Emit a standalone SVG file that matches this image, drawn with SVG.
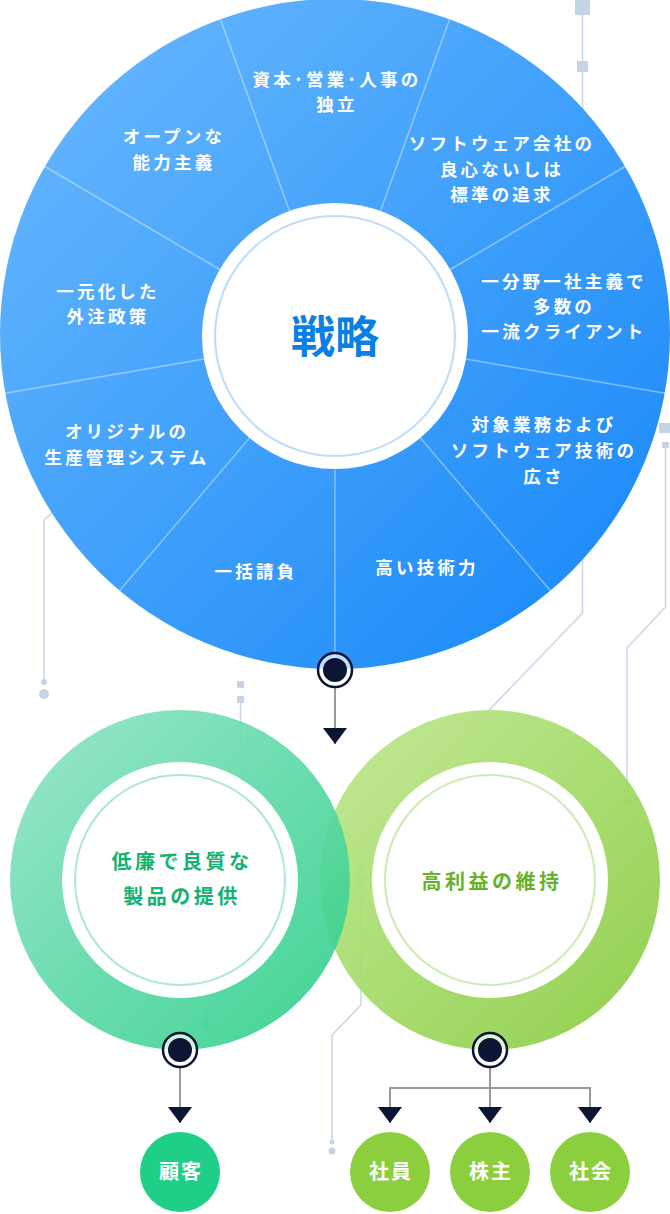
<svg xmlns="http://www.w3.org/2000/svg" width="670" height="1214" viewBox="0 0 670 1214">
<defs>
<linearGradient id="gBlue" x1="0" y1="0" x2="1" y2="1">
<stop offset="0" stop-color="#6cbafd"/>
<stop offset="1" stop-color="#1486f8"/>
</linearGradient>
<linearGradient id="gMint" x1="0" y1="0" x2="1" y2="1">
<stop offset="0" stop-color="#93e4c7"/>
<stop offset="1" stop-color="#2dcf89"/>
</linearGradient>
<linearGradient id="gLime" x1="0" y1="0" x2="1" y2="1">
<stop offset="0" stop-color="#bfe890"/>
<stop offset="1" stop-color="#88cc40"/>
</linearGradient>
<marker id="arr" viewBox="0 0 16 24" refX="16" refY="12" markerWidth="16" markerHeight="24" markerUnits="userSpaceOnUse" orient="auto-start-reverse">
<path d="M0,0 L16,12 L0,24 Z" fill="#0c1533"/>
</marker>
<style>
text{font-family:"Noto Sans CJK JP","Noto Sans",sans-serif;font-weight:bold;text-anchor:middle}
.seg{fill:#fff;font-size:17.5px;letter-spacing:3.2px}
.div{stroke:#fff;stroke-opacity:0.4;stroke-width:1.5}
.deco{stroke:#c8d6e6;stroke-width:1.5;fill:none}
.sq{fill:#c5d4e4}
.con{stroke:#9a9a9a;stroke-width:2;fill:none}
.dotO{fill:#fff;fill-opacity:0.7;stroke:#0c1533;stroke-width:2.5}
.dotI{fill:#0c1533}
.leaf{fill:#fff;font-size:20px;letter-spacing:2px}
.gt{font-size:20px;letter-spacing:3.5px}
</style>
</defs>

<g id="decorations">
<rect class="sq" x="575" y="0" width="15" height="15"/>
<rect class="sq" x="577" y="61" width="11" height="11"/>
<polyline class="deco" points="582.5,15 582.5,613 470,730"/>
<rect class="sq" x="659" y="423" width="12" height="10"/>
<rect class="sq" x="662" y="442" width="7" height="6"/>
<polyline class="deco" points="665.5,448 665.5,607 627,648 627,790"/>
<circle class="sq" cx="627" cy="790" r="3"/>
<circle class="sq" cx="627" cy="800" r="4"/>
<polyline class="deco" points="52,513 44,520 44,680"/>
<circle class="sq" cx="44" cy="682" r="3"/>
<circle class="sq" cx="44" cy="694" r="5"/>
<rect class="sq" x="237" y="681" width="7" height="7"/>
<rect class="sq" x="237" y="696" width="7" height="7"/>
<polyline class="deco" points="240.5,703 240.5,975 206,1008"/>
<circle class="sq" cx="206" cy="1012" r="3"/>
<circle class="sq" cx="206" cy="1023" r="4"/>
<circle class="sq" cx="361" cy="868" r="3"/>
<circle class="sq" cx="361" cy="880" r="4"/>
<polyline class="deco" points="361,880 361,1005 332,1035 332,1140"/>
<circle class="sq" cx="332" cy="1142" r="2.5"/>
<circle class="sq" cx="332" cy="1151" r="3.5"/>
</g>

<g id="strategy">
<circle cx="335" cy="334" r="335" fill="url(#gBlue)"/>
<g>
<line class="div" x1="380.5" y1="211" x2="449.6" y2="19.2"/>
<line class="div" x1="450.2" y1="269.5" x2="625.1" y2="166.5"/>
<line class="div" x1="466" y1="359.1" x2="664.9" y2="393.2"/>
<line class="div" x1="420.5" y1="438" x2="550.3" y2="590.6"/>
<line class="div" x1="335" y1="470" x2="335" y2="670"/>
<line class="div" x1="249.5" y1="438" x2="119.7" y2="590.6"/>
<line class="div" x1="204" y1="359.1" x2="5.1" y2="393.2"/>
<line class="div" x1="219.8" y1="269.5" x2="44.9" y2="166.5"/>
<line class="div" x1="289.5" y1="211" x2="220.4" y2="19.2"/>
</g>
<circle cx="335" cy="336" r="133" fill="#fff"/>
<circle cx="335" cy="336" r="120" fill="none" stroke="#bcdcf7" stroke-width="2"/>
<text x="335" y="353" font-size="44px" fill="#0a7fe6">戦略</text>
</g>

<g id="seg-1"><text class="seg" x="337" y="86">資本･営業･人事の</text><text class="seg" x="337" y="111">独立</text></g>
<g id="seg-2"><text class="seg" x="502" y="150">ソフトウェア会社の</text><text class="seg" x="502" y="176">良心ないしは</text><text class="seg" x="502" y="201">標準の追求</text></g>
<g id="seg-3"><text class="seg" x="564" y="288">一分野一社主義で</text><text class="seg" x="564" y="313">多数の</text><text class="seg" x="564" y="338">一流クライアント</text></g>
<g id="seg-4"><text class="seg" x="544" y="431">対象業務および</text><text class="seg" x="544" y="457">ソフトウェア技術の</text><text class="seg" x="544" y="483">広さ</text></g>
<g id="seg-5"><text class="seg" x="427" y="574">高い技術力</text></g>
<g id="seg-6"><text class="seg" x="256" y="578">一括請負</text></g>
<g id="seg-7"><text class="seg" x="127" y="438">オリジナルの</text><text class="seg" x="127" y="464">生産管理システム</text></g>
<g id="seg-8"><text class="seg" x="108" y="298">一元化した</text><text class="seg" x="108" y="323">外注政策</text></g>
<g id="seg-9"><text class="seg" x="174" y="143">オープンな</text><text class="seg" x="174" y="169">能力主義</text></g>

<g id="profit">
<circle cx="490" cy="880" r="170" fill="url(#gLime)" fill-opacity="0.93"/>
<circle cx="490" cy="880" r="118" fill="#fff"/>
<circle cx="490" cy="880" r="105" fill="none" stroke="#cdeab0" stroke-width="2"/>
<text class="gt" x="492" y="889" fill="#66b12a">高利益の維持</text>
</g>

<g id="quality">
<circle cx="180" cy="880" r="170" fill="url(#gMint)" fill-opacity="0.92"/>
<circle cx="180" cy="880" r="118" fill="#fff"/>
<circle cx="180" cy="880" r="105" fill="none" stroke="#ace8cf" stroke-width="2"/>
<text class="gt" x="182" y="869" fill="#14b36f">低廉で良質な</text>
<text class="gt" x="182" y="904" fill="#14b36f">製品の提供</text>
</g>

<g id="connectors">
<line class="con" x1="335" y1="688" x2="335" y2="744" marker-end="url(#arr)"/>
<line class="con" x1="180" y1="1068" x2="180" y2="1123" marker-end="url(#arr)"/>
<line class="con" x1="490" y1="1068" x2="490" y2="1088"/>
<polyline class="con" points="390,1123 390,1088 590,1088 590,1123" marker-end="url(#arr)" marker-start="url(#arr)"/>
<line class="con" x1="490" y1="1088" x2="490" y2="1123" marker-end="url(#arr)"/>
<circle class="dotO" cx="335" cy="670" r="17"/><circle class="dotI" cx="335" cy="670" r="12"/>
<circle class="dotO" cx="180" cy="1050" r="17"/><circle class="dotI" cx="180" cy="1050" r="12"/>
<circle class="dotO" cx="490" cy="1050" r="17"/><circle class="dotI" cx="490" cy="1050" r="12"/>
</g>

<g id="customer"><circle cx="180" cy="1172" r="40" fill="#1fcf88"/><text class="leaf" x="181" y="1179">顧客</text></g>
<g id="employee"><circle cx="390" cy="1172" r="40" fill="#8ccf3e"/><text class="leaf" x="391" y="1179">社員</text></g>
<g id="shareholder"><circle cx="490" cy="1172" r="40" fill="#8ccf3e"/><text class="leaf" x="491" y="1179">株主</text></g>
<g id="society"><circle cx="590" cy="1172" r="40" fill="#8ccf3e"/><text class="leaf" x="591" y="1179">社会</text></g>
</svg>
